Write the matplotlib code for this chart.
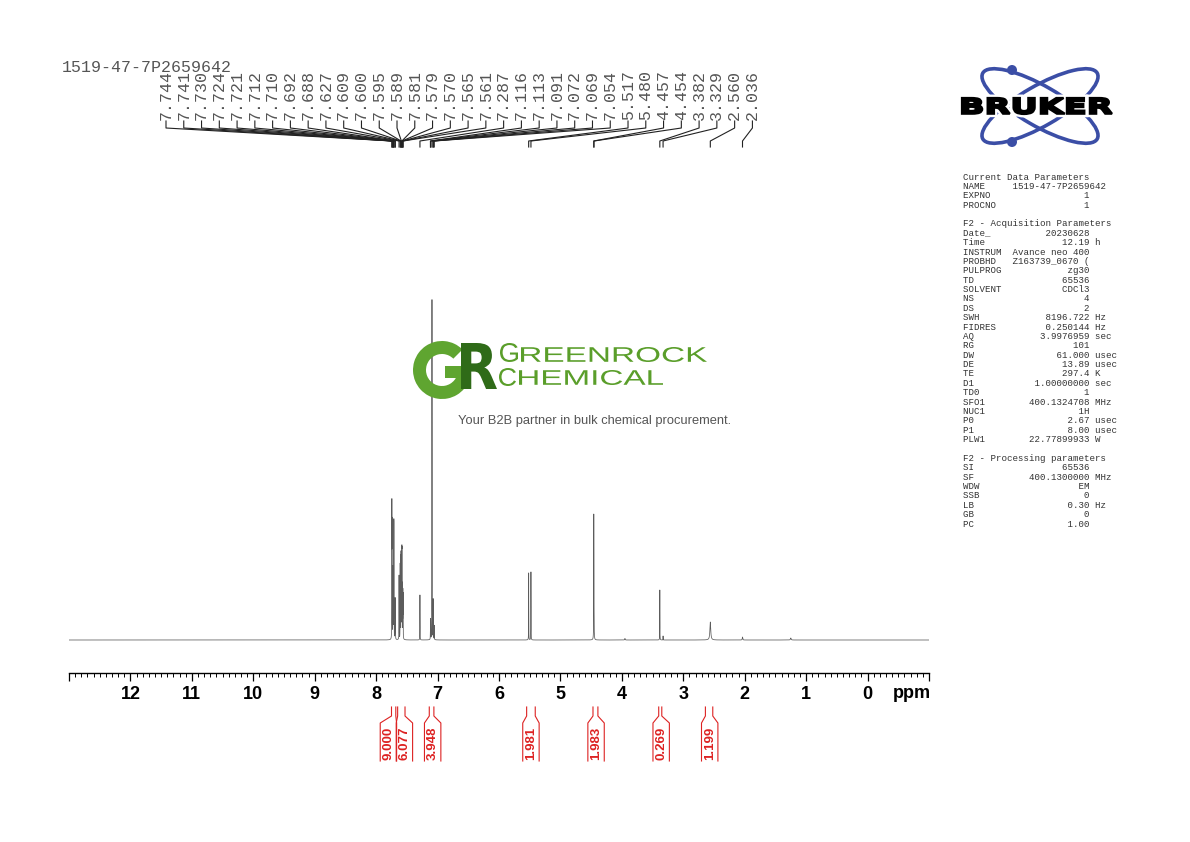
import numpy as np
import matplotlib
matplotlib.use('Agg')
import matplotlib.pyplot as plt
from matplotlib.transforms import blended_transform_factory, Affine2D
from matplotlib.textpath import TextPath
from matplotlib.font_manager import FontProperties
from matplotlib.patches import PathPatch, Ellipse, Circle, Wedge, Rectangle
from matplotlib.ticker import MultipleLocator, FixedLocator, FixedFormatter

W, H = 1190, 842

sample_name = '1519-47-7P2659642'

# resolved lines of the 1H spectrum: position (ppm), height, half width (ppm)
line_ppm = [7.744, 7.741, 7.730, 7.724, 7.721, 7.712, 7.710, 7.692, 7.688,
            7.627, 7.609, 7.600, 7.595, 7.589, 7.581, 7.579, 7.570, 7.565, 7.561,
            7.287, 7.116, 7.113, 7.091, 7.072, 7.069, 7.054,
            5.517, 5.480, 4.457, 4.454, 3.382, 3.329, 2.560, 2.036, 1.25, 3.95]
line_height = [126, 104, 50, 62, 58, 94, 90, 38, 38,
               64, 74, 78, 80, 82, 72, 70, 52, 44, 42,
               45, 18, 18, 340, 35, 35, 14,
               67, 68, 114, 60, 50, 4, 18, 3, 2, 1.5]
line_width = [0.0012] * 26 + [0.0012, 0.0012, 0.0015, 0.0015, 0.0012, 0.0012,
                              0.008, 0.004, 0.006, 0.004]

# peak labels on top
label_ppm = [7.744, 7.741, 7.730, 7.724, 7.721, 7.712, 7.710, 7.692, 7.688,
             7.627, 7.609, 7.600, 7.595, 7.589, 7.581, 7.579, 7.570, 7.565, 7.561,
             7.287, 7.116, 7.113, 7.091, 7.072, 7.069, 7.054,
             5.517, 5.480, 4.457, 4.454, 3.382, 3.329, 2.560, 2.036]

# integrals: region start, end, label position, value
int_hi = [7.75, 7.65, 7.135, 5.55, 4.47, 3.40, 2.64]
int_lo = [7.68, 7.53, 7.06, 5.41, 4.39, 3.35, 2.52]
int_pos = [7.80, 7.54, 7.08, 5.48, 4.42, 3.36, 2.57]
int_val = ['9.000', '6.077', '3.948', '1.981', '1.983', '0.269', '1.199']

# acquisition / processing parameters
params_current = [('NAME', sample_name, ''), ('EXPNO', '1', ''), ('PROCNO', '1', '')]
params_acq = [('Date_', '20230628', ''), ('Time', '12.19', 'h'),
              ('INSTRUM', 'Avance neo 400', ''), ('PROBHD', 'Z163739_0670 (', ''),
              ('PULPROG', 'zg30', ''), ('TD', '65536', ''), ('SOLVENT', 'CDCl3', ''),
              ('NS', '4', ''), ('DS', '2', ''), ('SWH', '8196.722', 'Hz'),
              ('FIDRES', '0.250144', 'Hz'), ('AQ', '3.9976959', 'sec'),
              ('RG', '101', ''), ('DW', '61.000', 'usec'), ('DE', '13.89', 'usec'),
              ('TE', '297.4', 'K'), ('D1', '1.00000000', 'sec'), ('TD0', '1', ''),
              ('SFO1', '400.1324708', 'MHz'), ('NUC1', '1H', ''),
              ('P0', '2.67', 'usec'), ('P1', '8.00', 'usec'),
              ('PLW1', '22.77899933', 'W')]
params_proc = [('SI', '65536', ''), ('SF', '400.1300000', 'MHz'), ('WDW', 'EM', ''),
               ('SSB', '0', ''), ('LB', '0.30', 'Hz'), ('GB', '0', ''), ('PC', '1.00', '')]

fig = plt.figure(figsize=(W / 100, H / 100), dpi=100)
pix = Affine2D().scale(1 / W, 1 / H) + fig.transFigure

def fy(py):
    return 1 - py / H

ax = fig.add_axes([69 / W, fy(673), 860 / W, (673 - 150) / H])
ax.set_xlim(13, -1)
ax.set_ylim(-33, 490)

# spectrum
x = np.arange(13, -1, -0.00025)
y = np.zeros_like(x)
for p, h, w in zip(line_ppm, line_height, line_width):
    y += h * w ** 2 / ((x - p) ** 2 + w ** 2)
ax.plot(x, y, color='#5c5c5c', lw=0.55)

for s in ['left', 'right', 'top']:
    ax.spines[s].set_visible(False)
ax.spines['bottom'].set_linewidth(1.0)
ax.set_yticks([])
major = list(range(-1, 14))
ax.xaxis.set_major_locator(FixedLocator(major))
ax.xaxis.set_major_formatter(FixedFormatter(['' if (t < 0 or t > 12) else str(t) for t in major]))
ax.xaxis.set_minor_locator(MultipleLocator(0.1))
ax.tick_params(axis='x', which='major', length=5.5, width=0.9, pad=4,
               labelsize=13)
ax.tick_params(axis='x', which='minor', length=2.8, width=0.7)
for lab in ax.get_xticklabels():
    lab.set_fontweight('bold')
    lab.set_family('Liberation Sans')
fig.text(912 / W, fy(693), 'ppm', ha='center', va='center', fontsize=13,
         fontweight='bold', family='Liberation Sans')

# title
fig.text(62 / W, fy(68), sample_name, ha='left', va='center', fontsize=12,
         family='Liberation Mono', color='#555555')

# peak labels with connecting lines
bt = blended_transform_factory(ax.transData, fig.transFigure)
inv = ax.transData.inverted()
for i, p in enumerate(label_ppm):
    lx_px = 166 + i * 17.77
    lx = inv.transform(pix.transform((lx_px, 0)))[0]
    fig.text(lx_px / W, fy(120), f'{p:.3f}', rotation=90, ha='center', va='bottom',
             fontsize=12, family='Liberation Mono', color='#555555')
    ax.plot([lx, lx, p, p], [fy(121), fy(128), fy(141), fy(147)], color='#222222',
            lw=0.8, transform=bt, clip_on=False)

# integrals
red = '#dd2222'
hw = 8.2 * 14 / 860
for hi, lo, c, v in zip(int_hi, int_lo, int_pos, int_val):
    ax.plot([hi, hi, c + hw, c + hw], [fy(707), fy(716), fy(723), fy(761)],
            color=red, lw=0.8, transform=bt, clip_on=False)
    ax.plot([lo, lo, c - hw, c - hw], [fy(707), fy(716), fy(723), fy(761)],
            color=red, lw=0.8, transform=bt, clip_on=False)
    ax.text(c, fy(743), v, rotation=90, ha='center', va='center', color=red,
            fontsize=9.5, fontweight='bold', family='Liberation Sans',
            transform=bt, clip_on=False)

# parameter block
lines = ['Current Data Parameters']
lines += [f'{n:<9}{v:>14} {u}'.rstrip() for n, v, u in params_current]
lines += ['', 'F2 - Acquisition Parameters']
lines += [f'{n:<9}{v:>14} {u}'.rstrip() for n, v, u in params_acq]
lines += ['', 'F2 - Processing parameters']
lines += [f'{n:<9}{v:>14} {u}'.rstrip() for n, v, u in params_proc]
for i, s in enumerate(lines):
    fig.text(963 / W, fy(177 + i * 9.38), s, ha='left', va='center', fontsize=6.6,
             family='Liberation Mono', color='#333333')


def text_in_box(s, x0, y0, x1, y1, color, family='DejaVu Sans', weight='bold',
                ec='none', lw=0, z=5, halo=0):
    tp = TextPath((0, 0), s, size=100, prop=FontProperties(family=family, weight=weight))
    bb = tp.get_extents()
    tr = (Affine2D().translate(-bb.x0, -bb.y0)
          .scale((x1 - x0) / bb.width, (y1 - y0) / bb.height)
          .translate(x0, H - y1))
    path = tr.transform_path(tp)
    if halo:
        fig.add_artist(PathPatch(path, transform=pix, fc='white', ec='white',
                                 lw=halo, zorder=z - 0.5))
    fig.add_artist(PathPatch(path, transform=pix, fc=color, ec=ec, lw=lw, zorder=z))


# Bruker logo
blue = '#3b4ea6'
for ang in (30, -30):
    fig.add_artist(Ellipse((1040, H - 106), 132, 40, angle=ang, fill=False, ec=blue,
                           lw=2.6, transform=pix, zorder=3))
for cy in (70, 142):
    fig.add_artist(Circle((1012, H - cy), 5, fc=blue, ec='none', transform=pix, zorder=3))
text_in_box('BRUKER', 962, 98, 1112, 114, 'black', ec='black', lw=1.6, z=4, halo=5)

# Greenrock watermark: G ring with bar, R on top
g_green = '#5fa530'
fig.add_artist(Wedge((442, H - 370), 29, 45, 360, width=13, fc=g_green, ec='none',
                     transform=pix, zorder=5))
fig.add_artist(Rectangle((445, H - 378), 26, 12, fc=g_green, ec='none',
                         transform=pix, zorder=5))
text_in_box('R', 461, 343, 497, 389, '#2f6b18', weight='bold', z=6)
text_in_box('G', 500, 343, 518, 362, '#5a9e2a', family='Liberation Sans', weight='normal')
text_in_box('REENROCK', 521, 347, 707, 362, '#5a9e2a', family='Liberation Sans', weight='normal')
text_in_box('C', 499, 368, 516, 386, '#5a9e2a', family='Liberation Sans', weight='normal')
text_in_box('HEMICAL', 519, 370, 663, 385, '#5a9e2a', family='Liberation Sans', weight='normal')
fig.text(595 / W, fy(421), 'Your B2B partner in bulk chemical procurement.', ha='center',
         va='center', fontsize=9.3, family='Liberation Sans', color='#555555')

fig.savefig('out.png', dpi=100)
